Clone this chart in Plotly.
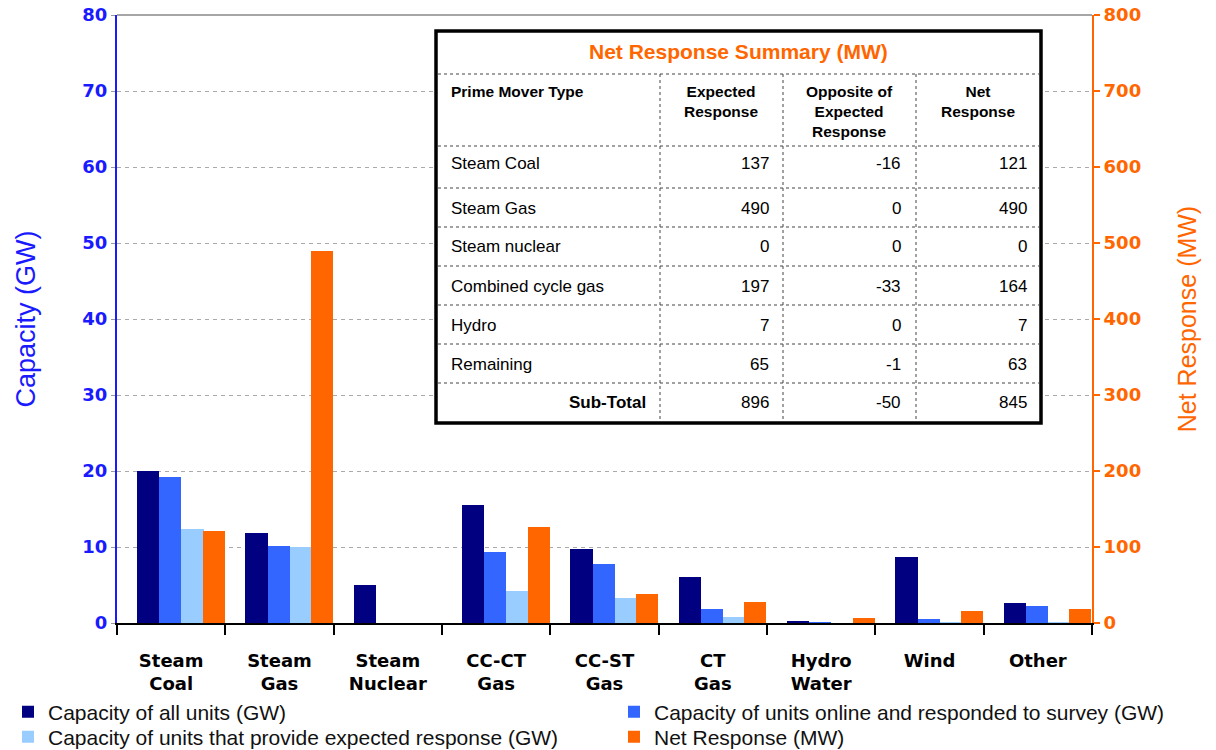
import plotly.graph_objects as go

# ---------------- data ----------------
categories = ["Steam<br>Coal", "Steam<br>Gas", "Steam<br>Nuclear", "CC-CT<br>Gas", "CC-ST<br>Gas",
              "CT<br>Gas", "Hydro<br>Water", "Wind", "Other"]
cap_all = [20.0, 11.9, 5.0, 15.5, 9.8, 6.1, 0.3, 8.7, 2.6]
cap_online = [19.2, 10.1, 0.0, 9.3, 7.7, 1.9, 0.1, 0.5, 2.3]
cap_expected = [12.4, 10.0, 0.0, 4.2, 3.3, 0.75, 0.0, 0.1, 0.1]
net_response = [121, 490, 0, 126, 38, 28, 7, 16, 19]

series_names = ["Capacity of all units (GW)",
                "Capacity of units online and responded to survey (GW)",
                "Capacity of units that provide expected response (GW)",
                "Net Response (MW)"]

left_ticks = [0, 10, 20, 30, 40, 50, 60, 70, 80]
right_ticks = [0, 100, 200, 300, 400, 500, 600, 700, 800]

table_title = "Net Response Summary (MW)"
table_headers = ["Prime Mover Type", "Expected<br>Response", "Opposite of<br>Expected<br>Response", "Net<br>Response"]
table_types = ["Steam Coal", "Steam Gas", "Steam nuclear", "Combined cycle gas", "Hydro", "Remaining", "Sub-Total"]
table_expected = [137, 490, 0, 197, 7, 65, 896]
table_opposite = [-16, 0, 0, -33, 0, -1, -50]
table_net = [121, 490, 0, 164, 7, 63, 845]

# ---------------- styling ----------------
C_DARK = "#000080"
C_BLUE = "#3366ff"
C_LIGHT = "#99ccff"
C_ORANGE = "#ff6600"
C_AXBLUE = "#1a1aff"

W, H = 1216, 750
L, R, T, B = 117, 1092, 15, 623


def px(x):
    return (x - L) / (R - L)


def py(y):
    return (B - y) / (B - T)


bar_w = 0.205
offsets = [-0.315, -0.11, 0.095, 0.29]
colors = [C_DARK, C_BLUE, C_LIGHT, C_ORANGE]
legend_ids = ["legend", "legend2", "legend3", "legend4"]
legend_pos = [(8, 712), (614, 712), (8, 737), (614, 737)]

fig = go.Figure()
for i, (vals, name) in enumerate(zip([cap_all, cap_online, cap_expected, net_response], series_names)):
    fig.add_trace(go.Bar(x=categories, y=vals, name=name, marker_color=colors[i],
                         marker_line_width=0, width=bar_w, offset=offsets[i],
                         yaxis="y2" if i == 3 else "y", legend=legend_ids[i]))

tick_font_family = "DejaVu Sans"
leg_font = dict(family="Liberation Sans, Arial", size=21, color="#111")

layout_legends = {}
for lid, (lx, ly) in zip(legend_ids, legend_pos):
    layout_legends[lid] = dict(x=px(lx), xanchor="left", y=py(ly), yanchor="middle",
                               font=leg_font, itemwidth=30, bgcolor="rgba(0,0,0,0)",
                               orientation="v")

fig.update_layout(
    width=W, height=H,
    margin=dict(l=L, r=W - R, t=T, b=H - B, autoexpand=False),
    paper_bgcolor="white", plot_bgcolor="white",
    barmode="overlay",
    bargap=0,
    showlegend=True,
    xaxis=dict(
        type="category", range=[-0.5, len(categories) - 0.5],
        showline=True, linecolor="black", linewidth=2,
        ticks="outside", tickson="boundaries", ticklen=10, tickwidth=2, tickcolor="black",
        ticklabelstandoff=20, automargin=False,
        tickfont=dict(family=tick_font_family, size=18, color="black", weight="bold"),
        showgrid=False, zeroline=False,
    ),
    yaxis=dict(
        range=[0, 80], tickvals=left_ticks, automargin=False,
        showline=True, linecolor=C_AXBLUE, linewidth=2,
        ticks="outside", ticklen=4, tickcolor="#999",
        tickfont=dict(family=tick_font_family, size=18, color=C_AXBLUE, weight="bold"),
        showgrid=True, gridcolor="#aaaaaa", griddash="4px,4px", gridwidth=1,
        zeroline=False,
        title=dict(text="Capacity (GW)", font=dict(family="Liberation Sans, Arial", size=27, color=C_AXBLUE),
                   standoff=39),
    ),
    yaxis2=dict(
        range=[0, 800], tickvals=right_ticks, overlaying="y", side="right", automargin=False,
        showline=True, linecolor=C_ORANGE, linewidth=2,
        ticks="outside", ticklen=6, tickcolor=C_ORANGE, tickwidth=2,
        tickfont=dict(family=tick_font_family, size=18, color=C_ORANGE, weight="bold"),
        showgrid=False, zeroline=False,
        title=dict(text="Net Response (MW)", font=dict(family="Liberation Sans, Arial", size=25, color=C_ORANGE),
                   standoff=38),
    ),
    **layout_legends,
)

shapes = []
# top border of plot area
shapes.append(dict(type="line", xref="paper", yref="paper", x0=0, x1=1, y0=1, y1=1,
                   line=dict(color="#888", width=1.5), layer="below"))

# table box
TL, TR, TT, TB = 436, 1041, 31, 423
shapes.append(dict(type="rect", xref="paper", yref="paper", x0=px(TL), x1=px(TR), y0=py(TB), y1=py(TT),
                   fillcolor="white", line=dict(color="black", width=3.5), layer="above"))
row_lines = [74, 146, 188, 227, 266, 305, 344, 383]
col_lines = [660, 783, 916]
for yl in row_lines:
    shapes.append(dict(type="line", xref="paper", yref="paper", x0=px(TL + 2), x1=px(TR - 2),
                       y0=py(yl), y1=py(yl), line=dict(color="#444", width=1, dash="dot"), layer="above"))
for xl in col_lines:
    shapes.append(dict(type="line", xref="paper", yref="paper", x0=px(xl), x1=px(xl),
                       y0=py(74), y1=py(TB - 2), line=dict(color="#444", width=1, dash="dot"), layer="above"))
fig.update_layout(shapes=shapes)

ann = []
tfont = "Liberation Sans, Arial"
ann.append(dict(xref="paper", yref="paper", x=px((TL + TR) / 2), y=py(52), text="<b>" + table_title + "</b>",
                showarrow=False, xanchor="center", yanchor="middle",
                font=dict(family=tfont, size=21, color=C_ORANGE)))
# headers
hdr_x = [449, 721, 849, 978]
hdr_anchor = ["left", "center", "center", "center"]
for txt, hx, ha in zip(table_headers, hdr_x, hdr_anchor):
    ann.append(dict(xref="paper", yref="paper", x=px(hx), y=py(81), text="<b>" + txt + "</b>",
                    showarrow=False, xanchor=ha, yanchor="top", align=ha,
                    font=dict(family=tfont, size=15.5, color="black")))
row_y = [164, 208, 246, 286, 325, 364, 403]
num_x = [771, 903, 1029]
for i, ry in enumerate(row_y):
    if table_types[i] == "Sub-Total":
        ann.append(dict(xref="paper", yref="paper", x=px(648), y=py(ry), text="<b>" + table_types[i] + "</b>",
                        showarrow=False, xanchor="right", yanchor="middle",
                        font=dict(family=tfont, size=17, color="black")))
    else:
        ann.append(dict(xref="paper", yref="paper", x=px(449), y=py(ry), text=table_types[i],
                        showarrow=False, xanchor="left", yanchor="middle",
                        font=dict(family=tfont, size=17, color="black")))
    for col_vals, nx in zip([table_expected, table_opposite, table_net], num_x):
        ann.append(dict(xref="paper", yref="paper", x=px(nx), y=py(ry), text=str(col_vals[i]),
                        showarrow=False, xanchor="right", yanchor="middle",
                        font=dict(family=tfont, size=17, color="black")))
fig.update_layout(annotations=ann)

fig.write_html("out.html", config={"displayModeBar": False},
               post_script="document.body.style.margin='0';document.body.style.padding='0';")
